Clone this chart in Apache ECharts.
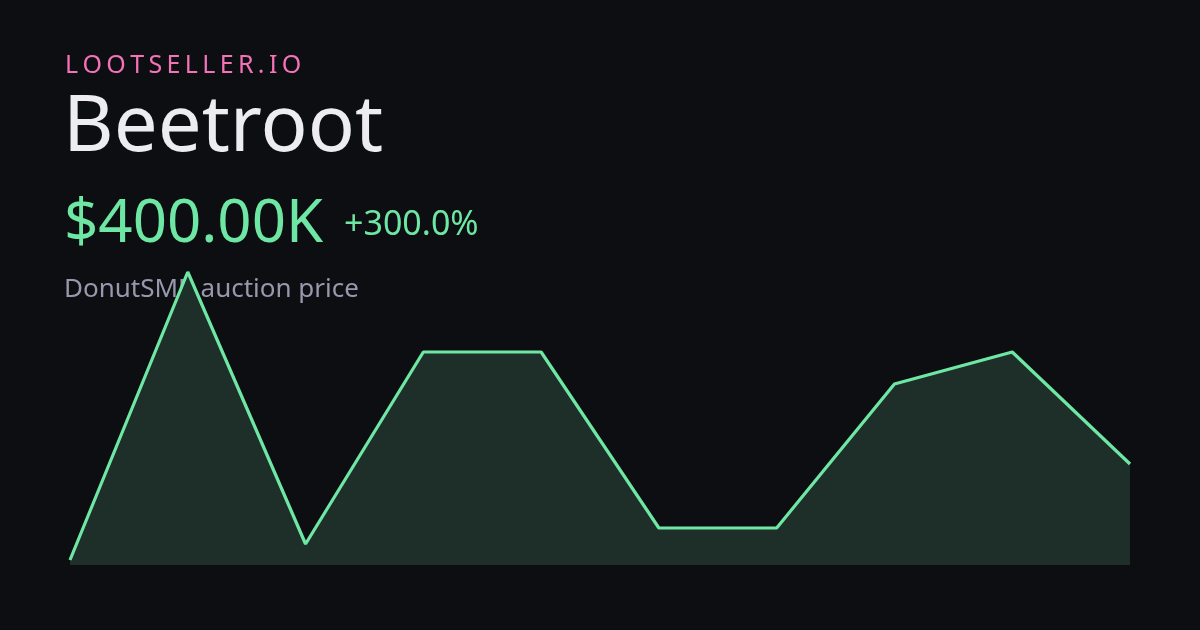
<!DOCTYPE html>
<html><head><meta charset="utf-8">
<script src="https://cdn.jsdelivr.net/npm/echarts@6/dist/echarts.min.js"></script>
<style>html,body{margin:0;padding:0;background:#0c0e12;}#c{width:1200px;height:630px;}</style>
</head><body><div id="c"></div>
<script>
const categories = ['1','2','3','4','5','6','7','8','9','10'];
const prices = [100000, 1000000, 150000, 750000, 750000, 200000, 200000, 650000, 750000, 400000];
const brand = 'LOOTSELLER.IO';
const itemName = 'Beetroot';
const priceLabel = '$400.00K';
const changeLabel = '+300.0%';
const subtitle = 'DonutSMP auction price';

const FONT = '"Noto Sans", "Open Sans", sans-serif';
const chart = echarts.init(document.getElementById('c'));

// letter-spaced brand text
const cv = document.createElement('canvas').getContext('2d');
const brandSize = 25, spacing = 4.35;
cv.font = brandSize + 'px ' + FONT;
const brandEls = [];
let bx = 65;
for (const ch of brand) {
  brandEls.push({type:'text', style:{text:ch, x:bx, y:66, font: brandSize+'px '+FONT, fill:'#f472b6', textVerticalAlign:'middle'}});
  bx += cv.measureText(ch).width + spacing;
}

chart.setOption({
  backgroundColor: '#0c0e12',
  animation: false,
  grid: {left: 70, right: 70, top: 272, bottom: 65},
  xAxis: {type:'category', data: categories, boundaryGap:false, show:false},
  yAxis: {type:'value', min: 84375, max: 1000000, show:false},
  series: [{
    type:'line', data: prices, symbol:'none', clip:false,
    lineStyle:{color:'#6ee7a4', width:3.2},
    areaStyle:{color:'#1e2f2a', origin:'start', opacity:1}
  }],
  graphic: brandEls.concat([
    {type:'text', style:{text:itemName, x:63, y:129, font:'78px '+FONT, fill:'#ececf1', textVerticalAlign:'middle'}},
    {type:'text', style:{text:priceLabel, x:64, y:225, font:'60px '+FONT, fill:'#6ee7a4', textVerticalAlign:'middle'}},
    {type:'text', style:{text:changeLabel, x:344, y:225, font:'34px '+FONT, fill:'#6ee7a4', textVerticalAlign:'middle'}},
    {type:'text', style:{text:subtitle, x:64, y:290, font:'26px '+FONT, fill:'#9898ad', textVerticalAlign:'middle'}}
  ])
});
</script></body></html>
